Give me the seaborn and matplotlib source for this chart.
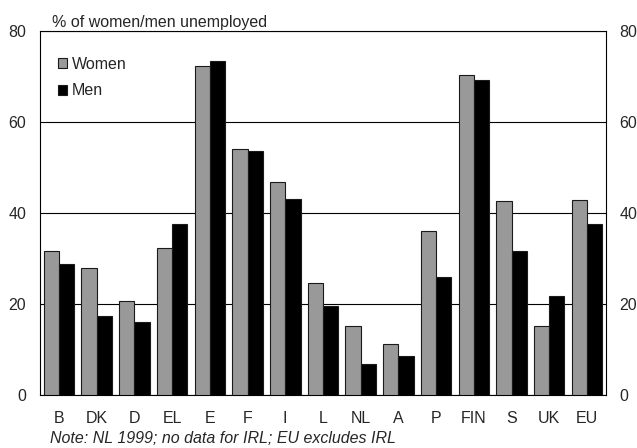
import matplotlib
matplotlib.use("Agg")
import matplotlib.pyplot as plt
import seaborn as sns
import pandas as pd

#--------------------------------------- DATA ---------------------------------------#
countries = ["B", "DK", "D", "EL", "E", "F", "I", "L", "NL", "A", "P", "FIN", "S", "UK", "EU"]
women = [31.5, 27.8, 20.5, 32.3, 72.2, 54.0, 46.7, 24.6, 15.0, 11.1, 35.9, 70.4, 42.5, 15.0, 42.9]
men = [28.7, 17.2, 16.0, 37.5, 73.3, 53.5, 43.0, 19.4, 6.7, 8.4, 25.8, 69.3, 31.6, 21.8, 37.6]
yticks = [0, 20, 40, 60, 80]

df = pd.DataFrame({
    "country": countries * 2,
    "value": women + men,
    "sex": ["Women"] * len(countries) + ["Men"] * len(countries),
})

FS = 11.5

#--------------------------------------- PLOT ---------------------------------------#
sns.set_style("white")
plt.rcParams["font.family"] = ["Liberation Sans", "DejaVu Sans"]

fig = plt.figure(figsize=(6.37, 4.48), dpi=100)
ax = fig.add_axes([0.063, 0.119, 0.888, 0.812])

sns.barplot(data=df, x="country", y="value", hue="sex", order=countries,
            hue_order=["Women", "Men"], palette=["#999999", "#000000"],
            width=0.81, edgecolor="#1a1a1a", linewidth=0.8, ax=ax, zorder=3)

ax.set_ylim(0, 80)
ax.set_xlim(-0.5, len(countries) - 0.5)
ax.set_yticks(yticks)
ax.set_yticklabels([str(v) for v in yticks])
ax.yaxis.grid(True, color="black", linewidth=0.8, zorder=0)
ax.set_axisbelow(True)
ax.tick_params(axis="y", length=0, labelsize=FS, pad=10, labelright=True, right=False)
ax.tick_params(axis="x", length=0, labelsize=FS, pad=12)
ax.set_xlabel("")
ax.set_ylabel("")
for side in ["top", "bottom", "left", "right"]:
    ax.spines[side].set_visible(True)
    ax.spines[side].set_color("black")
    ax.spines[side].set_linewidth(0.8)

fig.text(0.081, 1 - 22 / 448, "% of women/men unemployed", fontsize=FS, va="center", ha="left")
fig.text(0.079, 1 - 438 / 448, "Note: NL 1999; no data for IRL; EU excludes IRL",
         fontsize=FS, style="italic", va="center", ha="left")

ax.legend(loc="upper left", bbox_to_anchor=(0.02, 0.947), frameon=False, fontsize=FS,
          handlelength=0.6, handleheight=0.6, handletextpad=0.3, labelspacing=0.74,
          borderaxespad=0)

plt.savefig("out.png", dpi=100)
